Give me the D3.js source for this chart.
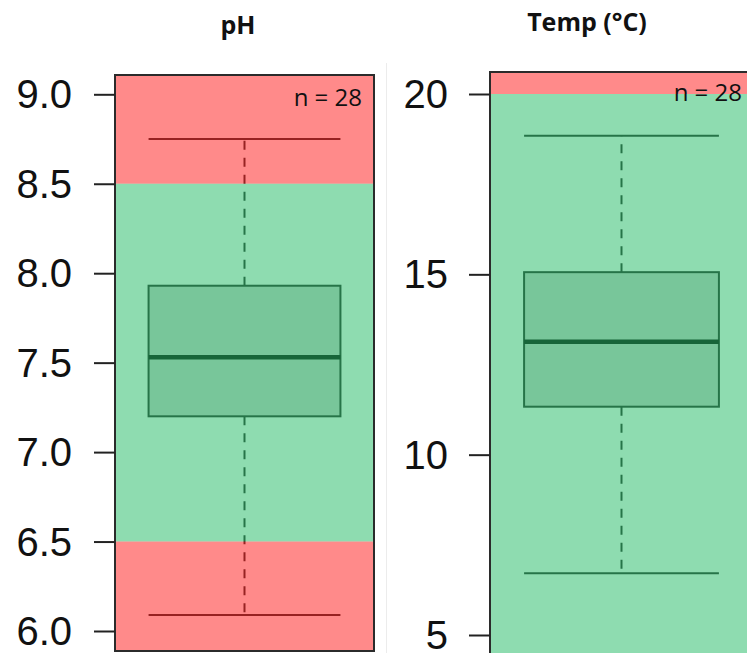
<!DOCTYPE html>
<html>
<head>
<meta charset="utf-8">
<script src="https://cdn.jsdelivr.net/npm/d3@7"></script>
<style>
  html, body { margin: 0; padding: 0; background: #fff; }
  svg { display: block; }
</style>
</head>
<body>
<svg id="chart" width="747" height="653"></svg>
<script>
// Water-quality box plots: one panel per parameter
const parameters   = ["pH", "Temp (°C)"];
const sampleSizes  = [28, 28];
const whiskerLow   = [6.09, 6.71];
const quartile1    = [7.20, 11.33];
const medians      = [7.53, 13.13];
const quartile3    = [7.93, 15.06];
const whiskerHigh  = [8.75, 18.84];
// acceptable range per parameter (null = no bound)
const limitLow     = [6.5, null];
const limitHigh    = [8.5, 20];
// axis ticks
const phTicks      = [6.0, 6.5, 7.0, 7.5, 8.0, 8.5, 9.0];
const tempTicks    = [5, 10, 15, 20];
const tickSets     = [phTicks, tempTicks];
const tickFormats  = [d3.format(".1f"), d3.format("d")];

// panel geometry
const layout = [
  { left: 115, right: 374, top: 75, bottom: 651, yDomain: [6, 9],  yRange: [631, 94.3],
    titleX: 238, titleY: 34, nX: 362, nY: 106, pad: 22 },
  { left: 490, right: 753, top: 72, bottom: 658, yDomain: [5, 20], yRange: [635, 94],
    titleX: 587, titleY: 31, nX: 742, nY: 101, pad: 21 }
];

const svg = d3.select("#chart");
const defs = svg.append("defs");

const overlayRed   = "rgb(255,21,21)";
const overlayGreen = "rgb(29,185,97)";
const overlayAlpha = 0.5;

// faint separator between the two panels
svg.append("line")
  .attr("x1", 386.5).attr("x2", 386.5)
  .attr("y1", 63).attr("y2", 653)
  .attr("stroke", "#ececec").attr("stroke-width", 1);

parameters.forEach((name, i) => {
  const L = layout[i];
  const y = d3.scaleLinear().domain(L.yDomain).range(L.yRange);
  const x = d3.scaleBand().domain([name]).range([L.left, L.right])
              .paddingInner(0).paddingOuter(0.175);
  const cx = x(name) + x.bandwidth() / 2;
  const x0 = x(name), x1 = x(name) + x.bandwidth();

  const clipId = "clip" + i;
  defs.append("clipPath").attr("id", clipId)
    .append("rect")
    .attr("x", L.left).attr("y", L.top)
    .attr("width", L.right - L.left).attr("height", L.bottom - L.top);

  const g = svg.append("g").attr("clip-path", `url(#${clipId})`);

  // plot area
  g.append("rect")
    .attr("x", L.left).attr("y", L.top)
    .attr("width", L.right - L.left).attr("height", L.bottom - L.top)
    .attr("fill", "#fff");

  // whiskers
  const lineCol = "#2e2e2e";
  g.append("line")
    .attr("x1", cx).attr("x2", cx)
    .attr("y1", y(quartile3[i])).attr("y2", y(whiskerHigh[i]))
    .attr("stroke", lineCol).attr("stroke-width", 2)
    .attr("stroke-dasharray", "9,8");
  g.append("line")
    .attr("x1", cx).attr("x2", cx)
    .attr("y1", y(quartile1[i])).attr("y2", y(whiskerLow[i]))
    .attr("stroke", lineCol).attr("stroke-width", 2)
    .attr("stroke-dasharray", "9,8");
  [whiskerLow[i], whiskerHigh[i]].forEach(v => {
    g.append("line")
      .attr("x1", x0).attr("x2", x1)
      .attr("y1", y(v)).attr("y2", y(v))
      .attr("stroke", lineCol).attr("stroke-width", 2);
  });

  // box
  g.append("rect")
    .attr("x", x0).attr("y", y(quartile3[i]))
    .attr("width", x1 - x0).attr("height", y(quartile1[i]) - y(quartile3[i]))
    .attr("fill", "rgb(211,211,211)")
    .attr("stroke", lineCol).attr("stroke-width", 2);

  // median
  g.append("line")
    .attr("x1", x0).attr("x2", x1)
    .attr("y1", y(medians[i])).attr("y2", y(medians[i]))
    .attr("stroke", "#111").attr("stroke-width", 4.5);

  // acceptable range shading on top of the box plot
  const yTop = y.invert(L.top), yBot = y.invert(L.bottom);
  const lo = limitLow[i] == null ? yBot : limitLow[i];
  const hi = limitHigh[i] == null ? yTop : limitHigh[i];
  const bands = [
    { from: hi, to: yTop, col: overlayRed },
    { from: lo, to: hi,   col: overlayGreen },
    { from: yBot, to: lo, col: overlayRed }
  ].filter(b => b.to > b.from);
  g.selectAll("rect.band").data(bands).enter().append("rect")
    .attr("class", "band")
    .attr("x", L.left).attr("width", L.right - L.left)
    .attr("y", b => y(b.to))
    .attr("height", b => y(b.from) - y(b.to))
    .attr("fill", b => b.col)
    .attr("fill-opacity", overlayAlpha);

  // panel frame
  svg.append("rect")
    .attr("x", L.left).attr("y", L.top)
    .attr("width", L.right - L.left).attr("height", L.bottom - L.top)
    .attr("fill", "none").attr("stroke", "#2b2b2b").attr("stroke-width", 2);

  // y axis
  const axis = d3.axisLeft(y)
    .tickValues(tickSets[i])
    .tickFormat(tickFormats[i])
    .tickSize(21)
    .tickPadding(L.pad);
  const ag = svg.append("g")
    .attr("transform", `translate(${L.left},0)`)
    .call(axis);
  ag.select(".domain").remove();
  ag.selectAll(".tick line").attr("stroke", "#222").attr("stroke-width", 2);
  ag.selectAll(".tick text")
    .attr("fill", "#111")
    .attr("dy", "0.34em")
    .style("font-family", "'Liberation Sans', Arial, sans-serif")
    .style("font-size", "40px");

  // title
  svg.append("text")
    .attr("x", L.titleX).attr("y", L.titleY)
    .attr("text-anchor", "middle")
    .style("font-family", "'Open Sans', sans-serif")
    .style("font-weight", "700")
    .style("font-size", "25px")
    .attr("fill", "#111")
    .text(name);

  // sample size
  svg.append("text")
    .attr("x", L.nX).attr("y", L.nY)
    .attr("text-anchor", "end")
    .style("font-family", "'Open Sans', sans-serif")
    .style("font-size", "24px")
    .attr("fill", "#111")
    .text(`n = ${sampleSizes[i]}`);
});
</script>
</body>
</html>
